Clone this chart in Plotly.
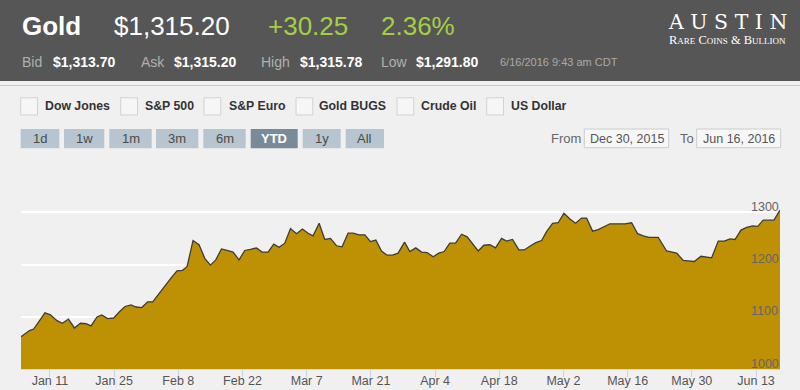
import pandas as pd
import plotly.graph_objects as go

# ---------------- data ----------------
# x position of each price point, in days after 2016-01-01
day_offset = [
    3.69, 5.52, 6.46, 8.92, 10.10, 11.54, 12.72, 14.03, 15.34, 16.65, 17.87, 18.96, 20.27,
    21.29, 22.60, 23.91, 25.16, 26.38, 27.69, 28.78, 30.02, 31.33, 32.42, 33.66, 34.97, 36.57,
    37.72, 38.90, 39.91, 41.21, 42.52, 43.77, 45.01, 46.17, 47.41, 48.63, 49.94, 51.25, 52.49,
    53.74, 55.05, 56.27, 57.58, 58.82, 59.98, 61.22, 62.47, 63.78, 65.08, 66.31, 67.40, 68.71, 69.95,
    71.19, 72.50, 73.72, 75.03, 76.12, 77.43, 78.68, 79.92, 81.08, 82.32, 83.54, 84.72, 85.94,
    87.34, 88.50, 89.80, 91.05, 92.27, 93.58, 94.82, 95.98, 97.22, 98.47, 99.78, 101.00, 102.46,
    103.40, 104.64, 105.95, 107.19, 108.50, 109.59, 110.90, 112.28, 113.44, 114.83, 115.99, 117.23,
    118.32, 119.63, 120.85, 122.10, 123.41, 124.65, 125.96, 127.05, 128.36, 129.58, 130.83, 132.13,
    133.60, 135.41,
    136.87, 138.18, 139.40, 140.64, 142.67, 144.51, 146.69, 148.13, 149.22, 150.53, 151.99, 153.23,
    154.32, 155.76, 157.07, 158.32, 159.41, 160.72, 161.96, 163.27, 164.36, 165.58, 166.83, 167.92,
    169.23,
]
price = [
    1062, 1074, 1077, 1108, 1104, 1093, 1088, 1096, 1079, 1088, 1087, 1083, 1100,
    1104, 1097, 1098, 1110, 1120, 1123, 1119, 1118, 1129, 1129, 1142, 1158, 1176,
    1188, 1189, 1196, 1246, 1238, 1212, 1199, 1209, 1230, 1227, 1224, 1209, 1227,
    1229, 1232, 1224, 1224, 1239, 1233, 1241, 1269, 1259, 1268, 1260, 1255, 1279, 1248,
    1250, 1236, 1234, 1260, 1260, 1257, 1257, 1244, 1247, 1226, 1218, 1218, 1222,
    1243, 1225, 1232, 1224, 1223, 1215, 1222, 1225, 1241, 1241, 1258, 1253, 1237,
    1226, 1237, 1238, 1232, 1250, 1245, 1248, 1228, 1228, 1236, 1242, 1246,
    1263, 1279, 1280, 1298, 1287, 1279, 1289, 1289, 1264, 1267, 1273, 1278,
    1278, 1278,
    1280, 1259, 1255, 1252, 1252, 1226, 1222, 1208, 1207, 1206, 1216, 1215,
    1213, 1245, 1245, 1249, 1248, 1266, 1271, 1274, 1273, 1285, 1285, 1285,
    1304,
]
base_date = "2016-01-01"
first_tick = "2016-01-11"
tick_every_days = 14
y_range = [1000, 1380]
y_ticks = [1000, 1100, 1200, 1300]

# header texts
symbol = "Gold"
last_price = "$1,315.20"
change = "+30.25"
change_pct = "2.36%"
quote_labels = ["Bid", "Ask", "High", "Low"]
quote_values = ["$1,313.70", "$1,315.20", "$1,315.78", "$1,291.80"]
timestamp = "6/16/2016 9:43 am CDT"
compare_labels = ["Dow Jones", "S&P 500", "S&P Euro", "Gold BUGS", "Crude Oil", "US Dollar"]
range_buttons = ["1d", "1w", "1m", "3m", "6m", "YTD", "1y", "All"]
active_button = "YTD"
date_from = "Dec 30, 2015"
date_to = "Jun 16, 2016"

dates = pd.Timestamp(base_date) + pd.to_timedelta(day_offset, unit="D")

# ---------------- layout helpers (pixels -> paper) ----------------
W, H = 800, 390
SANS = "Liberation Sans, Arial, Helvetica, sans-serif"
SERIF = "Liberation Serif, Times New Roman, serif"


def X(px):
    return px / W


def Y(py):
    return 1 - py / H


annotations = []
shapes = []


def text(x, y, s, size, color, weight=400, anchor="left", family=SANS, **extra):
    f = dict(size=size, color=color, family=family, weight=weight)
    f.update(extra)
    annotations.append(dict(x=X(x), y=Y(y), xref="paper", yref="paper", text=s,
                            showarrow=False, xanchor=anchor, yanchor="middle", font=f))


def rect(x0, y0, x1, y1, fill, line=None, lw=1):
    shapes.append(dict(type="rect", xref="paper", yref="paper", x0=X(x0), x1=X(x1),
                       y0=Y(y1), y1=Y(y0), fillcolor=fill,
                       line=dict(color=line or fill, width=lw if line else 0), layer="below"))


# dark header
rect(0, 0, 800, 81, "#565656")
shapes.append(dict(type="line", xref="paper", yref="paper", x0=0, x1=1, y0=Y(85.5), y1=Y(85.5),
                   line=dict(color="#c9c9c9", width=1)))

GREEN = "#a4cf45"
text(20, 26, symbol, 26, "white", weight=700)
text(112, 26, last_price, 26, "white")
text(266, 26, change, 26, GREEN)
text(379, 26, change_pct, 26, GREEN)

label_x = [20, 139, 259, 379]
value_x = [50.5, 172, 297.5, 414]
for lx, vx, lab, val in zip(label_x, value_x, quote_labels, quote_values):
    text(lx, 62, lab, 14, "#b0b0b0")
    text(vx, 62, val, 14, "white", weight=700)
text(497.5, 62, timestamp, 11, "#aaaaaa")

# logo
text(727.5, 22, "A U S T I N", 20.5, "white", anchor="center", family="DejaVu Serif, serif")
text(727.5, 40.5, "Rare Coins &amp; Bullion", 12.5, "white", anchor="center", family=SERIF,
     variant="small-caps")

# comparison check boxes
box_x = [20.7, 120.7, 204, 296, 397, 486.7]
lab_x = [42.5, 143, 226.5, 317, 419, 509]
for bx, lx, lab in zip(box_x, lab_x, compare_labels):
    rect(bx, 97.7, bx + 16.8, 115, "#f6f6f6", line="#d2d2d2")
    text(lx, 106, lab, 12.3, "#333333", weight=700)

# range buttons
btn_x = [(20.7, 59.3), (64, 104.3), (109.3, 151.7), (156, 198.3), (203.3, 245.7),
         (250.7, 297.7), (302.7, 340.7), (345.7, 384)]
for (x0, x1), lab in zip(btn_x, range_buttons):
    on = lab == active_button
    rect(x0, 129, x1, 148.3, "#798b9a" if on else "#b7c5d0")
    text((x0 + x1) / 2, 138.7, lab, 13, "white" if on else "#4a4a4a",
         weight=700 if on else 400, anchor="center")

# from / to
text(549, 138.7, "From", 13, "#666666")
rect(584.3, 129, 668.7, 147.7, "#f7f7f7", line="#cdcdcd")
text(626.5, 138.7, date_from, 12.5, "#555555", anchor="center")
text(678, 138.7, "To", 13, "#666666")
rect(696.7, 129, 780.7, 147.7, "#f7f7f7", line="#cdcdcd")
text(738.7, 138.7, date_to, 12.5, "#555555", anchor="center")

# ---------------- chart ----------------
fig = go.Figure()
fig.add_trace(go.Scatter(
    x=dates, y=price, mode="lines", fill="tozeroy",
    fillcolor="#be9105", line=dict(color="#3c3c3c", width=1.3),
    hoverinfo="x+y",
))

fig.update_layout(
    width=W, height=H,
    margin=dict(l=0, r=0, t=0, b=0),
    paper_bgcolor="#f0f0f0", plot_bgcolor="#f0f0f0",
    showlegend=False,
    shapes=shapes, annotations=annotations,
    xaxis=dict(
        type="date", domain=[21 / W, 780 / W], automargin=False,
        range=[dates[0], dates[-1]],
        tick0=first_tick, dtick=tick_every_days * 86400000,
        tickformat="%b %-d",
        ticks="outside", ticklen=7, tickcolor="#c4d4e4", tickwidth=1,
        ticklabelstandoff=-7,
        showgrid=False, zeroline=False, showline=False,
        tickfont=dict(size=12.5, color="#555555", family=SANS),
        fixedrange=True,
    ),
    yaxis=dict(
        domain=[1 - 369.3 / H, 1 - 170.4 / H], automargin=False,
        range=y_range, tickvals=y_ticks,
        side="right", ticklabelstandoff=-30, ticklabelshift=-6,
        ticklabeloverflow="allow",
        showgrid=True, gridcolor="white", gridwidth=1.5,
        zeroline=False, showline=False, ticks="",
        tickfont=dict(size=12.5, color="#666666", family=SANS),
        fixedrange=True,
    ),
)

fig.write_html(
    "out.html",
    config={"displayModeBar": False},
    post_script="document.body.style.margin='0';document.body.style.overflow='hidden';",
)
